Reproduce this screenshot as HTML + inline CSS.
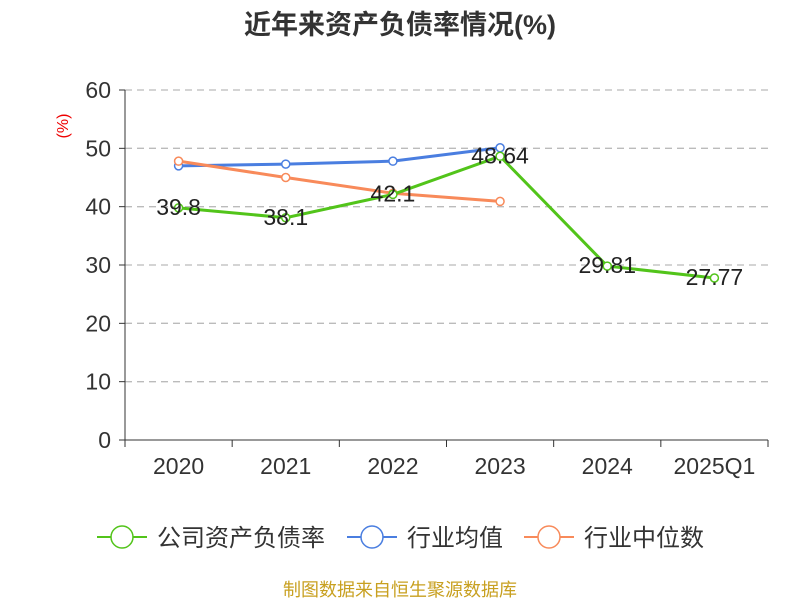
<!DOCTYPE html>
<html><head><meta charset="utf-8"><style>
body{margin:0;background:#fff;font-family:"Liberation Sans","Noto Sans CJK SC",sans-serif;}
svg text{font-family:"Liberation Sans","Noto Sans CJK SC",sans-serif;}
</style></head><body>
<svg id="chart" width="800" height="600" viewBox="0 0 800 600">
<text x="400" y="34" text-anchor="middle" font-size="27" font-weight="bold" fill="#333">近年来资产负债率情况(%)</text>
<text x="68" y="126" text-anchor="middle" font-size="16" fill="#e00" transform="rotate(-90 68 126)">(%)</text>
<g id="grid"></g><g id="axes"></g><g id="series"></g>
<g id="legend"></g>
<text x="400" y="596" text-anchor="middle" font-size="18" fill="#c8a020">制图数据来自恒生聚源数据库</text>
</svg>
<script>
const categories=["2020","2021","2022","2023","2024","2025Q1"];
const companyRatio=[39.8,38.1,42.1,48.64,29.81,27.77];
const companyLabels=["39.8","38.1","42.1","48.64","29.81","27.77"];
const industryAvg=[47.0,47.3,47.8,50.1,null,null];
const industryMedian=[47.8,45.0,42.3,40.9,null,null];
const yTicks=[0,10,20,30,40,50,60];
const NS="http://www.w3.org/2000/svg";
const x0=125,x1=768,y0=440,y1=90,yMax=60;
const bw=(x1-x0)/categories.length;
const xs=i=>x0+bw*(i+0.5);
const ys=v=>y0-(v/yMax)*(y0-y1);
function mk(tag,attrs,parent){const e=document.createElementNS(NS,tag);for(const k in attrs)e.setAttribute(k,attrs[k]);parent.appendChild(e);return e;}
const grid=document.getElementById('grid'),axes=document.getElementById('axes'),series=document.getElementById('series'),legend=document.getElementById('legend');
yTicks.forEach(t=>{
 const y=ys(t);
 if(t>0){const g=mk('line',{x1:x0,x2:x1,y1:y,y2:y,stroke:'#bbb','stroke-width':1.3,'stroke-dasharray':'7,5'},grid);
 
 }
 const tk=mk('line',{x1:x0-6,x2:x0,y1:y,y2:y,stroke:'#333'},axes);
 
 
 const tx=mk('text',{x:x0-14,y:y+8,'text-anchor':'end','font-size':23,fill:'#333'},axes);tx.textContent=t;
 
 
});
const ya=mk('line',{x1:x0,x2:x0,y1:y1,y2:y0,stroke:'#333'},axes);


const xa=mk('line',{x1:x0,x2:x1,y1:y0,y2:y0,stroke:'#333'},axes);


for(let i=0;i<=categories.length;i++){const t=mk('line',{x1:x0+bw*i,x2:x0+bw*i,y1:y0,y2:y0+7,stroke:'#333'},axes);
 
 }
categories.forEach((c,i)=>{const t=mk('text',{x:xs(i),y:y0+34,'text-anchor':'middle','font-size':23,fill:'#333'},axes);t.textContent=c;
 
 });
function drawSeries(data,color,name){
 const pts=data.map((v,i)=>v==null?null:[xs(i),ys(v)]).filter(p=>p);
 const pl=mk('polyline',{points:pts.map(p=>p.join(',')).join(' '),fill:'none',stroke:color,'stroke-width':3},series);
 
 
 pts.forEach(p=>{const c=mk('circle',{cx:p[0],cy:p[1],r:4,fill:'#fff',stroke:color,'stroke-width':1.5},series);
 
 });
}
drawSeries(industryAvg,'#4a7ee0','industry-average');
drawSeries(industryMedian,'#f88a5a','industry-median');
drawSeries(companyRatio,'#52c41a','company-ratio');
companyRatio.forEach((v,i)=>{const t=mk('text',{x:xs(i),y:ys(v)+7,'text-anchor':'middle','font-size':23,fill:'#222'},series);t.textContent=companyLabels[i];
 
 });
const leg=[["公司资产负债率",'#52c41a',97],["行业均值",'#4a7ee0',347],["行业中位数",'#f88a5a',524]];
leg.forEach(([n,c,x])=>{
 const g=mk('g',{},legend);
 
 
 mk('line',{x1:x,x2:x+50,y1:537,y2:537,stroke:c,'stroke-width':2},g);
 mk('circle',{cx:x+25,cy:537,r:11,fill:'#fff',stroke:c,'stroke-width':1.5},g);
 const t=mk('text',{x:x+60,y:546,'font-size':24,fill:'#333'},g);t.textContent=n;
});
</script>
</body></html>
